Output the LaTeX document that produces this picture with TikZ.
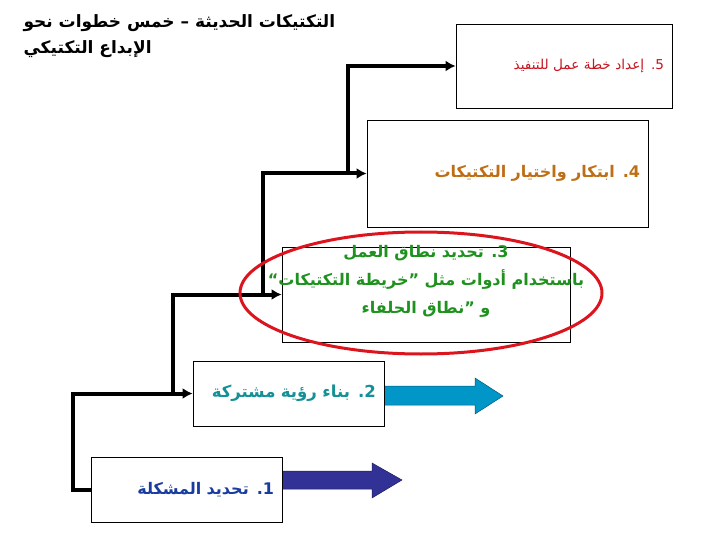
\documentclass[tikz,border=0pt]{standalone}
\usepackage{fontspec}
\newfontfamily\arabicfont[Script=Arabic]{DejaVu Sans}
\TeXXeTstate=1
\usetikzlibrary{arrows.meta}

\definecolor{stepred}{RGB}{200,20,30}
\definecolor{steporange}{RGB}{190,110,20}
\definecolor{stepgreen}{RGB}{30,145,30}
\definecolor{stepteal}{RGB}{20,145,150}
\definecolor{stepblue}{RGB}{25,60,160}
\definecolor{ringred}{RGB}{220,20,30}
\definecolor{cyanfill}{RGB}{0,150,200}
\definecolor{navyfill}{RGB}{50,50,150}

\newcommand{\rtl}[1]{\beginR #1\endR}

\begin{document}
\begin{tikzpicture}[x=1pt,y=-1pt,
  stepbox/.style={draw,fill=white,line width=0.8pt,inner xsep=8pt,inner ysep=0pt,align=right,font=\arabicfont\bfseries},
  conn/.style={line width=4pt,-{Latex[length=10pt,width=11pt]}},
  blockarrow/.style={line width=0.5pt}]
\useasboundingbox (0,0) rectangle (720,540);

% title
\node (title) [anchor=north west,align=left,font=\arabicfont\bfseries\fontsize{17}{26}\selectfont]
  at (20,11) {\rtl{التكتيكات الحديثة – خمس خطوات نحو}\\ \rtl{الإبداع التكتيكي}};

% block arrows
\filldraw[blockarrow,fill=cyanfill,draw=cyanfill!60!black]
  (384,386) -- (475,386) -- (475,378) -- (503,396) -- (475,414) -- (475,405) -- (384,405) -- cycle;
\filldraw[blockarrow,fill=navyfill,draw=navyfill!60!black]
  (282,471) -- (372,471) -- (372,463) -- (402,480) -- (372,498) -- (372,489) -- (282,489) -- cycle;

% steps
\node (b5) [stepbox,text width=200pt,minimum height=84pt,text=stepred,font=\arabicfont\mdseries\fontsize{13.6}{17}\selectfont]
  at (564,66) {\rtl{5. إعداد خطة عمل للتنفيذ}};
\node (b4) [stepbox,text width=265pt,minimum height=107pt,text=steporange,font=\arabicfont\bfseries\fontsize{16}{20}\selectfont]
  at (507.5,173.5) {\rtl{4. ابتكار واختيار التكتيكات}};
\node (b3) [stepbox,minimum width=288pt,minimum height=95pt] at (426,294.5) {};
\node (t3) [align=center,text=stepgreen,font=\arabicfont\bfseries\fontsize{16}{28}\selectfont]
  at (426,281) {\rtl{3. تحديد نطاق العمل}\\ \rtl{باستخدام أدوات مثل ”خريطة التكتيكات“}\\ \rtl{و ”نطاق الحلفاء}};
\node (b2) [stepbox,text width=175pt,minimum height=65pt,text=stepteal,font=\arabicfont\bfseries\fontsize{16.5}{20}\selectfont]
  at (288.5,393.5) {\rtl{2. بناء رؤية مشتركة}};
\node (b1) [stepbox,text width=175pt,minimum height=65pt,text=stepblue,font=\arabicfont\bfseries\fontsize{16}{20}\selectfont]
  at (186.5,489.5) {\rtl{1. تحديد المشكلة}};

% staircase connectors
\draw[conn] (b1.west) -- ++(-18,0) |- (b2.west);
\draw[conn] ([xshift=-20pt]b2.west) |- (b3.west);
\draw[conn] ([xshift=-19pt]b3.west) |- (b4.west);
\draw[conn] ([xshift=-19pt]b4.west) |- (b5.west);

% ring round step 3
\draw[ringred,line width=3pt] (421,293) ellipse [x radius=181, y radius=61];

\end{tikzpicture}
\end{document}
